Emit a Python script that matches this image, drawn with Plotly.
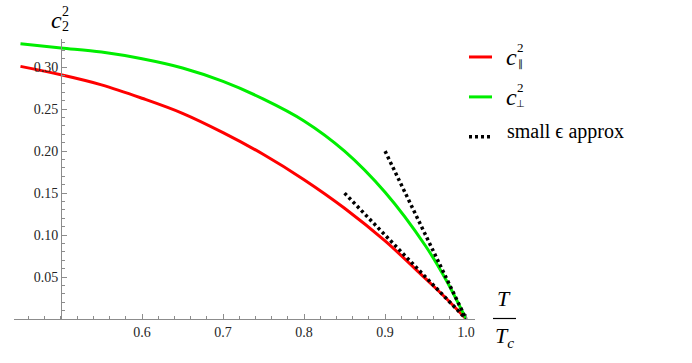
import plotly.graph_objects as go

# ratio T/Tc
t_ratio = [0.45, 0.50, 0.55, 0.60, 0.65, 0.70, 0.75, 0.80, 0.85, 0.90, 0.95, 0.975, 1.00]
# c_parallel^2 (red) and c_perp^2 (green)
c_par = [0.301, 0.291, 0.279, 0.263, 0.245, 0.222, 0.196, 0.166, 0.132, 0.093, 0.048, 0.025, 0.0]
c_perp = [0.328, 0.323, 0.318, 0.310, 0.299, 0.283, 0.262, 0.236, 0.200, 0.151, 0.087, 0.047, 0.0]

# small epsilon approximations (straight lines into T = Tc)
approx_par_x = [0.85, 1.0]
approx_par_y = [0.15, 0.0]
approx_perp_x = [0.90, 1.0]
approx_perp_y = [0.20, 0.0]

x_ticks = [0.6, 0.7, 0.8, 0.9, 1.0]
y_ticks = [0.05, 0.10, 0.15, 0.20, 0.25, 0.30]

FONT = "Liberation Serif, Times New Roman, Times, serif"
AXIS_GREY = "#8c8c8c"
TICK_FONT = dict(family=FONT, size=14, color="#262626")

# plot area in page pixels
W, H = 692, 363
L, R, T, B = 14, 475, 39, 319.5


def px(x):
    return (x - L) / (R - L)


def py(y):
    return (B - y) / (B - T)


fig = go.Figure()
fig.add_trace(go.Scatter(x=t_ratio, y=c_par, mode="lines", line=dict(color="#ff0000", width=3, shape="spline"),
                         showlegend=False, cliponaxis=False))
fig.add_trace(go.Scatter(x=t_ratio, y=c_perp, mode="lines", line=dict(color="#00ee00", width=3, shape="spline"),
                         showlegend=False, cliponaxis=False))
for ax, ay in ((approx_par_x, approx_par_y), (approx_perp_x, approx_perp_y)):
    fig.add_trace(go.Scatter(x=ax, y=ay, mode="lines", line=dict(color="black", width=3.5, dash="3px,3px"),
                             showlegend=False, cliponaxis=False))

annotations = []


def text(x, y, s, size, italic=False, anchor="center"):
    if italic:
        s = f"<i>{s}</i>"
    annotations.append(dict(x=px(x), y=py(y), xref="paper", yref="paper", text=s, showarrow=False,
                            xanchor=anchor, yanchor="middle", font=dict(family=FONT, size=size, color="black")))


# y-axis label c_2^2
text(56, 20, "c", 24, italic=True)
text(65, 11, "2", 14)
text(65, 26, "2", 14)
# x-axis label T / Tc
text(504, 299, "T", 22, italic=True)
text(504, 338, "T<sub>c</sub>", 22, italic=True)

# hand-made legend
legend_rows = [(57, "#ff0000", "solid", "∥"), (97, "#00ee00", "solid", "⊥")]
shapes = []
for y, color, dash, sub in legend_rows:
    shapes.append(dict(type="line", xref="paper", yref="paper", x0=px(469), x1=px(492), y0=py(y), y1=py(y),
                       line=dict(color=color, width=3, dash=dash)))
    text(511, y, "c", 24, italic=True)
    text(520, y - 9, "2", 13)
    text(520, y + 7, sub, 10)
shapes.append(dict(type="line", xref="paper", yref="paper", x0=px(469), x1=px(492), y0=py(137), y1=py(137),
                   line=dict(color="black", width=3.5, dash="3px,3px")))
text(505, 132, "small ϵ approx", 20, anchor="left")
shapes.append(dict(type="line", xref="paper", yref="paper", x0=px(493), x1=px(516), y0=py(319), y1=py(319),
                   line=dict(color="black", width=1.2)))

fig.update_layout(
    width=W, height=H,
    margin=dict(l=L, r=W - R, t=T, b=H - B, autoexpand=False),
    plot_bgcolor="white", paper_bgcolor="white",
    font=dict(family=FONT, size=14, color="#262626"),
    annotations=annotations, shapes=shapes,
    xaxis=dict(range=[0.442, 1.011], tickvals=x_ticks, ticktext=[f"{v:.1f}" for v in x_ticks],
               automargin=False, tickfont=TICK_FONT,
               showgrid=False, zeroline=False, showline=True, linecolor=AXIS_GREY, linewidth=1,
               ticks="inside", ticklen=5, tickcolor=AXIS_GREY, tickwidth=1,
               minor=dict(ticks="inside", ticklen=3, tickcolor=AXIS_GREY, tickmode="linear", tick0=0.5, dtick=0.02)),
    yaxis=dict(range=[0, 0.3336], tickvals=y_ticks, ticktext=[f"{v:.2f}" for v in y_ticks],
               anchor="free", position=px(61), automargin=False, tickfont=TICK_FONT,
               showgrid=False, zeroline=False, showline=True, linecolor=AXIS_GREY, linewidth=1,
               ticks="inside", ticklen=5, tickcolor=AXIS_GREY, tickwidth=1,
               minor=dict(ticks="inside", ticklen=3, tickcolor=AXIS_GREY, tickmode="linear", tick0=0, dtick=0.01)),
)

# drop the page's default body margin so the figure sits at the window corner
fig.write_html("out.html", config={"displayModeBar": False},
               post_script="document.body.style.margin = '0';")
